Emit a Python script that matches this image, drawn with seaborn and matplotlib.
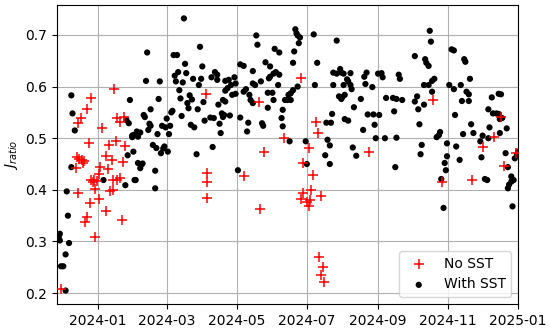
import matplotlib
matplotlib.use("Agg")
import matplotlib.pyplot as plt
import matplotlib.dates as mdates
import numpy as np
import pandas as pd
import seaborn as sns

# J_ratio per day, with and without SST (days counted from 2024-01-01)
start = pd.Timestamp("2024-01-01")

sst_day = [-23, -22, -20, -23, -27, -26, -34, -34, -33, -33, -25, -28, -32, -30, -28,
           28, 25, 27, 30, 30, 31, 26, 5, 24, 32,
           75, 43, 66, 69, 89, 76, 91, 70, 77, 67, 83, 90, 42, 54, 68, 74, 88, 71, 80, 82,
           72, 53, 78, 92, 79, 87, 65, 64, 46, 40, 41, 73, 60, 93, 98, 45, 46, 56, 59, 63,
           81, 84, 44, 34, 37, 31, 35, 52, 62, 48, 51, 55, 58, 61, 57, 86, 35, 38, 39, 37,
           50, 33, 50,
           138, 139, 154, 158, 124, 127, 146, 150, 102, 104, 99, 104, 135, 155, 158, 150,
           149, 153, 119, 114, 111, 116, 120, 135, 137, 142, 157, 113, 111, 129, 127, 117,
           120, 148, 152, 132, 109, 133, 135, 153, 111, 105, 161, 148, 101, 108, 110, 115,
           109, 124, 131, 130, 106, 107, 143, 144, 160, 161, 100, 122,
           172, 173, 174, 176, 175, 188, 208, 171, 170, 191, 205, 208, 211, 212, 214, 220,
           217, 218, 220, 221, 174, 189, 205, 214, 170, 168, 166, 165, 168, 163, 210, 213,
           212, 215, 229, 223, 204, 199, 203, 215, 218, 167, 181, 200, 202, 222, 225, 198,
           202, 182,
           289, 290, 276, 285, 286, 288, 234, 232, 233, 244, 247, 248, 262, 263, 239, 284,
           288, 291, 291, 251, 257, 260, 265, 278, 276, 279, 284, 258, 235, 240, 245, 241,
           280, 231, 242, 250, 260, 282, 281, 259,
           308, 310, 319, 320, 324, 293, 306, 310, 316, 321, 323, 317, 323, 349, 351, 343,
           311, 340, 344, 347, 349, 352, 350, 356, 325, 341, 318, 327, 350, 298, 297, 295,
           335, 333, 340, 304, 312, 334, 355, 304, 302, 303, 315, 357, 365, 366, 363, 299,
           337, 339, 360, 360, 358, 357, 362, 301, 361]
sst_val = [0.583, 0.548, 0.515, 0.444, 0.397, 0.350, 0.310, 0.305, 0.315, 0.302, 0.297, 0.275, 0.252, 0.252, 0.205,
           0.574, 0.535, 0.529, 0.505, 0.502, 0.474, 0.467, 0.419, 0.409, 0.419,
           0.732, 0.666, 0.661, 0.661, 0.677, 0.644, 0.639, 0.628, 0.626, 0.621, 0.615, 0.615, 0.611, 0.610, 0.610, 0.608,
           0.603, 0.593, 0.583, 0.575, 0.577, 0.576, 0.568, 0.570, 0.558, 0.556, 0.553, 0.550, 0.556, 0.545, 0.541, 0.543,
           0.538, 0.534, 0.540, 0.528, 0.524, 0.524, 0.521, 0.524, 0.526, 0.521, 0.516, 0.513, 0.511, 0.506, 0.503, 0.508,
           0.508, 0.487, 0.481, 0.471, 0.484, 0.474, 0.480, 0.469, 0.452, 0.449, 0.451, 0.442, 0.437, 0.419, 0.403,
           0.699, 0.681, 0.673, 0.666, 0.643, 0.640, 0.647, 0.639, 0.628, 0.623, 0.618, 0.613, 0.630, 0.628, 0.623, 0.619,
           0.616, 0.625, 0.618, 0.613, 0.611, 0.603, 0.606, 0.606, 0.603, 0.610, 0.603, 0.597, 0.592, 0.595, 0.590, 0.584,
           0.586, 0.588, 0.588, 0.584, 0.574, 0.574, 0.568, 0.574, 0.571, 0.565, 0.555, 0.559, 0.539, 0.548, 0.545, 0.544,
           0.541, 0.540, 0.530, 0.513, 0.528, 0.510, 0.529, 0.524, 0.539, 0.523, 0.483, 0.438,
           0.711, 0.703, 0.699, 0.695, 0.684, 0.701, 0.689, 0.668, 0.646, 0.646, 0.627, 0.625, 0.634, 0.627, 0.625, 0.626,
           0.614, 0.610, 0.603, 0.595, 0.600, 0.603, 0.603, 0.603, 0.593, 0.587, 0.584, 0.574, 0.574, 0.574, 0.581, 0.580,
           0.576, 0.584, 0.576, 0.560, 0.547, 0.530, 0.530, 0.537, 0.534, 0.494, 0.494, 0.497, 0.486, 0.482, 0.466, 0.467,
           0.450, 0.450,
           0.708, 0.687, 0.659, 0.653, 0.646, 0.640, 0.627, 0.619, 0.605, 0.625, 0.626, 0.618, 0.623, 0.615, 0.599, 0.603,
           0.603, 0.611, 0.590, 0.578, 0.578, 0.576, 0.574, 0.581, 0.571, 0.556, 0.565, 0.552, 0.546, 0.546, 0.545, 0.526,
           0.527, 0.516, 0.500, 0.500, 0.501, 0.487, 0.469, 0.444,
           0.672, 0.670, 0.653, 0.648, 0.615, 0.615, 0.603, 0.595, 0.603, 0.590, 0.585, 0.572, 0.572, 0.586, 0.585, 0.579,
           0.545, 0.556, 0.548, 0.548, 0.547, 0.539, 0.537, 0.519, 0.527, 0.521, 0.508, 0.510, 0.510, 0.512, 0.506, 0.502,
           0.505, 0.494, 0.500, 0.490, 0.484, 0.463, 0.471, 0.465, 0.452, 0.438, 0.458, 0.444, 0.468, 0.474, 0.461, 0.421,
           0.421, 0.419, 0.426, 0.416, 0.410, 0.403, 0.419, 0.365, 0.368]

nosst_day = [-32, 14, -6, -9, -15, -17, 4, 17, 19, 23, -8, 16, 10, 24, -18, -16, -14, -12, -13, -19,
             7, 12, 22, 2, 9, 1, -6, -3, -1, -4, 13, 17, 19, -2, 11, 13, -17, 1, -7, 7, -9, -11, 21, -2,
             94, 95, 95, 95,
             140, 145, 127, 141, 162,
             177, 190, 192, 184, 179, 187, 179, 186, 194, 177, 185, 182, 184, 193, 196, 194, 197,
             236, 292,
             351, 345, 335, 354, 300, 326, 364]
nosst_val = [0.208, 0.595, 0.577, 0.556, 0.539, 0.529, 0.519, 0.539, 0.532, 0.542, 0.490, 0.494, 0.486, 0.484,
             0.463, 0.459, 0.458, 0.455, 0.452, 0.442, 0.466, 0.458, 0.454, 0.445, 0.440, 0.431, 0.419, 0.419,
             0.418, 0.416, 0.419, 0.420, 0.423, 0.402, 0.397, 0.400, 0.394, 0.383, 0.374, 0.360, 0.347, 0.337,
             0.341, 0.309,
             0.586, 0.432, 0.416, 0.385,
             0.570, 0.473, 0.427, 0.362, 0.500,
             0.617, 0.532, 0.510, 0.482, 0.452, 0.428, 0.394, 0.399, 0.389, 0.382, 0.381, 0.376, 0.368,
             0.270, 0.250, 0.236, 0.221,
             0.474, 0.574,
             0.542, 0.503, 0.483, 0.447, 0.416, 0.419, 0.472]

sst = pd.DataFrame({"date": start + pd.to_timedelta(sst_day, unit="D"), "J": sst_val})
nosst = pd.DataFrame({"date": start + pd.to_timedelta(nosst_day, unit="D"), "J": nosst_val})

fig = plt.figure(figsize=(5.5, 3.31), dpi=100)
ax = fig.add_axes([0.1036, 0.0816, 0.8386, 0.9034])

sns.scatterplot(data=nosst, x="date", y="J", ax=ax, color="red", marker="+",
                s=55, linewidth=1.1, label="No SST", zorder=3)
sns.scatterplot(data=sst, x="date", y="J", ax=ax, color="black", marker="o",
                s=20, edgecolor="none", label="With SST", zorder=2)

ax.set_xlim(pd.Timestamp("2023-11-26 12:00"), pd.Timestamp("2025-01-01"))
ax.set_ylim(0.179, 0.758)
ax.xaxis.set_major_locator(mdates.MonthLocator(bymonth=[1, 3, 5, 7, 9, 11]))
ax.xaxis.set_major_formatter(mdates.DateFormatter("%Y-%m"))
ax.set_yticks([0.2, 0.3, 0.4, 0.5, 0.6, 0.7])
ax.grid(True, color="#b0b0b0", linewidth=0.8)
ax.set_axisbelow(True)
ax.set_xlabel("")
ax.set_ylabel("$J_{ratio}$", fontsize=10)
ax.tick_params(labelsize=10)
ax.legend(loc="lower right", fontsize=10)

plt.savefig("out.png", dpi=100)
